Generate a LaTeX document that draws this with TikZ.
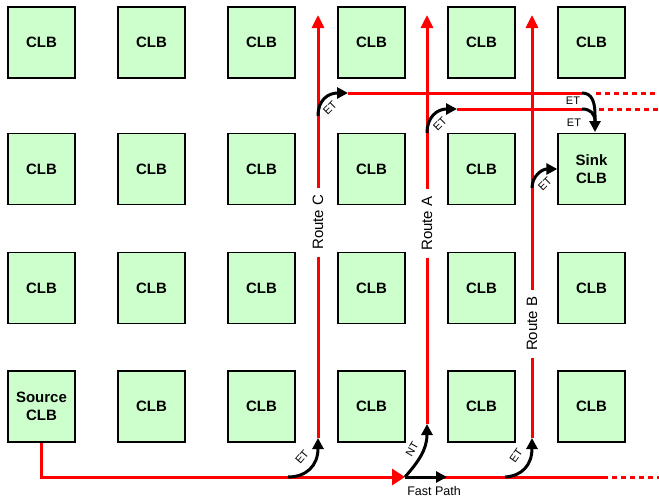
\documentclass[tikz,border=0pt]{standalone}
\usepackage{fontspec}
\setmainfont{Liberation Sans}
\usetikzlibrary{arrows.meta,positioning}
\definecolor{clbgreen}{HTML}{CCFFCC}
\tikzset{
  clb/.style={ draw=black, line width=1.3pt, fill=clbgreen, minimum width=67pt, minimum height=71pt, inner sep=0pt, align=center, font=\fontsize{15}{18}\selectfont\bfseries }
}
\tikzset{
  route/.style={ draw=red, line width=3pt }
}
\tikzset{
  routetip/.style={ route, -{Triangle[length=13pt,width=12pt]} }
}
\tikzset{
  spare/.style={ draw=red, line width=3pt, dash pattern=on 5pt off 4pt }
}
\tikzset{
  turn/.style={ draw=black, line width=3pt, -{Triangle[length=11pt,width=11pt]} }
}
\tikzset{
  rlabel/.style={ fill=white, rotate=90, inner sep=7pt, font=\fontsize{15}{15}\selectfont }
}
\tikzset{
  tlabel/.style={ inner sep=0pt, font=\fontsize{11}{11}\selectfont }
}

\begin{document}
\begin{tikzpicture}[x=1pt, y=-1pt]
      \useasboundingbox (0,0) rectangle (659,499);
      \foreach \r/\y in {1/42.5, 2/169, 3/288, 4/406.5}
        \foreach \c in {1,...,6}
          \node[clb] (clb\r\c) at ({41.5+110*(\c-1)}, \y) {\ifnum\r\c=41 Source\\CLB\else\ifnum\r\c=26 Sink\\CLB\else CLB\fi\fi};
      \coordinate (fork) at (405,477);
      \coordinate (busR) at (608,477);
      \coordinate (busDot) at (612,477);
      \coordinate (busE) at (659,477);
      \coordinate (etC0) at (288,477);
      \coordinate (etB0) at (505,477);
      \coordinate (fastE) at (447,477);
      \coordinate (cBot) at (318,438);
      \coordinate (cTop) at (318,15);
      \coordinate (aBot) at (427,424);
      \coordinate (aTop) at (427,15);
      \coordinate (bBot) at (532,438);
      \coordinate (bTop) at (532,15);
      \coordinate (cTurn) at (318,116);
      \coordinate (aTurn) at (427,133);
      \coordinate (bTurn) at (532,188);
      \coordinate (h1L) at (348,93);
      \coordinate (h1R) at (582,93);
      \coordinate (h1D) at (596,93);
      \coordinate (h1E) at (659,93);
      \coordinate (h2L) at (457,109);
      \coordinate (h2R) at (582,109);
      \coordinate (h2D) at (599,109);
      \coordinate (h2E) at (659,109);
      \coordinate (sinkIn) at (595,132);
      % red routes
      \draw[route, -{Triangle[length=13pt,width=16pt]}] (clb41.south) |- (fork);
      \draw[route] (fork) -- (busR);
      \draw[spare] (busDot) -- (busE);
      \draw[routetip] (cBot) -- node[rlabel, pos=0.51] (lblC) {Route C} (cTop);
      \draw[routetip] (aBot) -- node[rlabel, pos=0.49] (lblA) {Route A} (aTop);
      \draw[routetip] (bBot) -- node[rlabel, pos=0.27] (lblB) {Route B} (bTop);
      \draw[route] (h1L) -- (h1R);
      \draw[spare] (h1D) -- (h1E);
      \draw[route] (h2L) -- (h2R);
      \draw[spare] (h2D) -- (h2E);
      % turns
      \draw[turn] (etC0) .. controls (306,477) and (318,466) .. (cBot);
      \draw[turn] (fork) .. controls (418,462) and (427,450) .. (aBot);
      \draw[turn] (fork) -- (fastE);
      \draw[turn] (etB0) .. controls (522,476) and (532,465) .. (bBot);
      \draw[turn] (cTurn) .. controls (318,100) and (328,93) .. (h1L);
      \draw[turn] (aTurn) .. controls (427,117) and (437,109) .. (h2L);
      \draw[turn] (bTurn) .. controls (532,176) and (542,169) .. (clb26.west);
      \draw[turn] (h1R) .. controls (592,93) and (595,102) .. (595,115) -- (sinkIn);
      \draw[draw=black, line width=3pt] (h2R) .. controls (590,109) and (595,113) .. (595,122);
      \node[tlabel, rotate=50] (etC) at (302,457) {ET};
      \node[tlabel, rotate=60] (ntA) at (412,449) {NT};
      \node[tlabel, rotate=55] (etB) at (516,456) {ET};
      \node[tlabel, rotate=45] (etCt) at (330,108) {ET};
      \node[tlabel, rotate=45] (etAt) at (440,124) {ET};
      \node[tlabel, rotate=45] (etBt) at (545,184) {ET};
      \node[tlabel] (etS1) at (573,101) {ET};
      \node[tlabel] (etS2) at (574,123) {ET};
      \node[anchor=north, inner sep=0pt, font=\fontsize{12.5}{13}\selectfont] (fast) at (434,486) {Fast Path};
    \end{tikzpicture}
\end{document}
